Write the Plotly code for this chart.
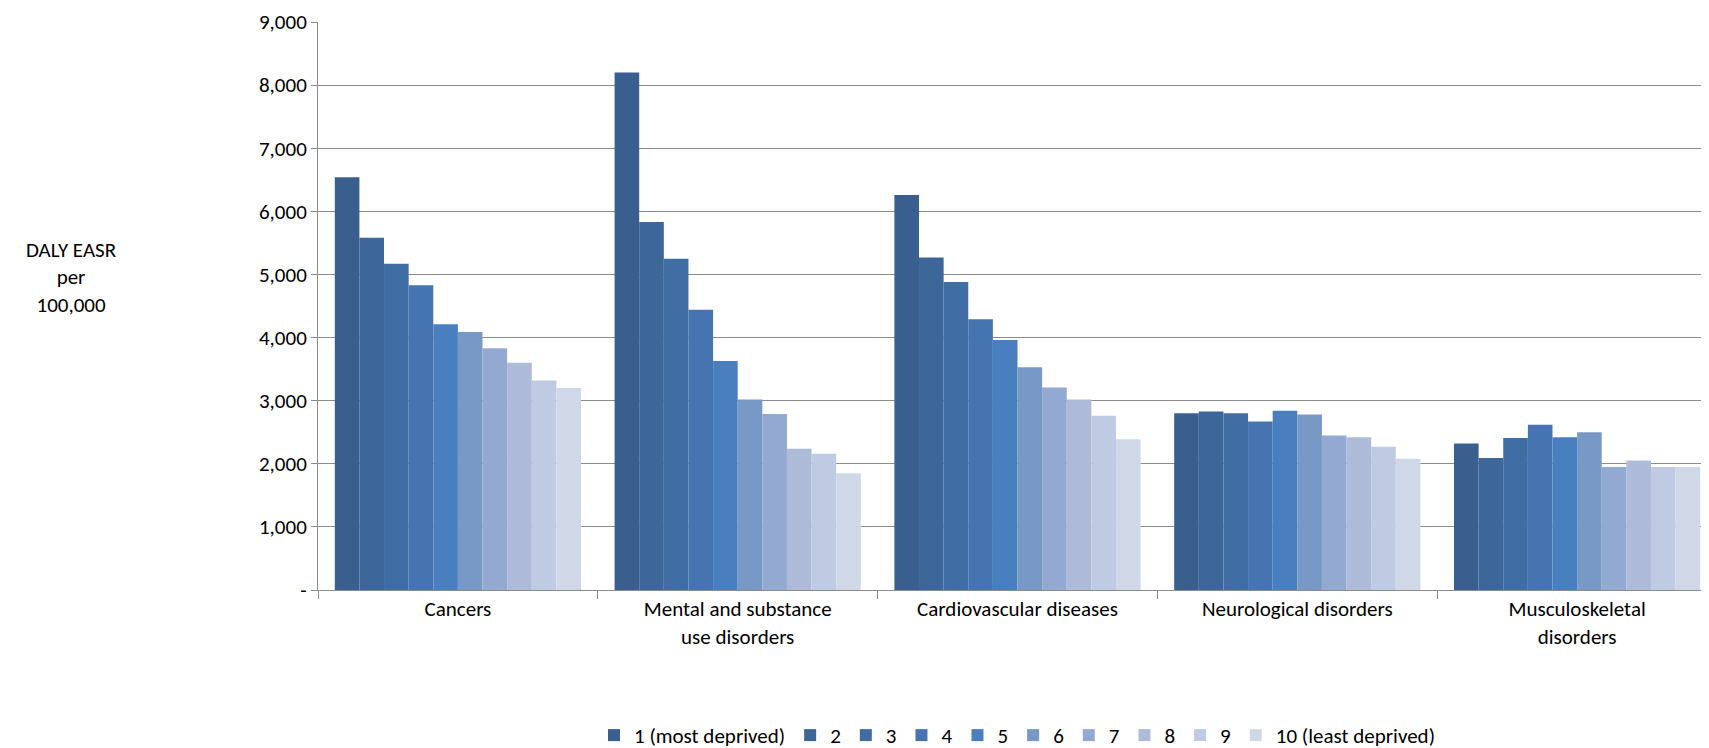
import plotly.graph_objects as go

categories = ["Cancers", "Mental and substance<br>use disorders", "Cardiovascular diseases",
              "Neurological disorders", "Musculoskeletal<br>disorders"]
series_names = ["1 (most deprived)", "2", "3", "4", "5", "6", "7", "8", "9", "10 (least deprived)"]
cancers = [6540, 5580, 5170, 4830, 4210, 4090, 3830, 3600, 3320, 3200]
mental = [8200, 5830, 5250, 4440, 3630, 3020, 2790, 2240, 2160, 1850]
cardio = [6260, 5270, 4880, 4290, 3960, 3530, 3210, 3020, 2760, 2390]
neuro = [2800, 2830, 2800, 2670, 2840, 2780, 2450, 2420, 2270, 2080]
musculo = [2320, 2090, 2410, 2620, 2420, 2500, 1950, 2050, 1950, 1950]
colors = ["#3A5F8E", "#3D6699", "#416DA5", "#4574B0", "#4A7FBF",
          "#7899C6", "#93A9D1", "#ADBBD9", "#BFCBE3", "#D0D8E8"]
tick_vals = [0, 1000, 2000, 3000, 4000, 5000, 6000, 7000, 8000, 9000]
tick_text = ["-", "1,000", "2,000", "3,000", "4,000", "5,000", "6,000", "7,000", "8,000", "9,000"]

groups = [cancers, mental, cardio, neuro, musculo]
fig = go.Figure()
for i, name in enumerate(series_names):
    fig.add_trace(go.Bar(x=categories, y=[g[i] for g in groups], name=name,
                         marker=dict(color=colors[i], line=dict(width=0))))

font = dict(family="Carlito, Open Sans, sans-serif", size=21, color="black")
fig.update_layout(
    width=1709, height=748, barmode="group", bargap=0.12, bargroupgap=0,
    plot_bgcolor="white", paper_bgcolor="white", font=font,
    margin=dict(l=310, r=0, t=14, b=162),
    legend=dict(orientation="h", x=0.5, xanchor="center", y=-0.22, yanchor="top",
                font=font, traceorder="normal", itemwidth=30),
    showlegend=True,
    annotations=[dict(text="DALY EASR<br>per<br>100,000", x=-0.21, y=0.55, xref="paper",
                      yref="paper", showarrow=False, font=font, align="center")],
)
fig.update_yaxes(range=[0, 9000], tickvals=tick_vals, ticktext=tick_text, showgrid=True,
                 gridcolor="#8C8C8C", gridwidth=1, showline=True, linecolor="#8C8C8C",
                 ticks="outside", ticklen=6, tickcolor="#8C8C8C", zeroline=False)
fig.update_xaxes(showline=True, linecolor="#8C8C8C", ticks="outside", tickson="boundaries",
                 ticklen=8, tickcolor="#8C8C8C", tickangle=0)
fig.write_html("out.html")
